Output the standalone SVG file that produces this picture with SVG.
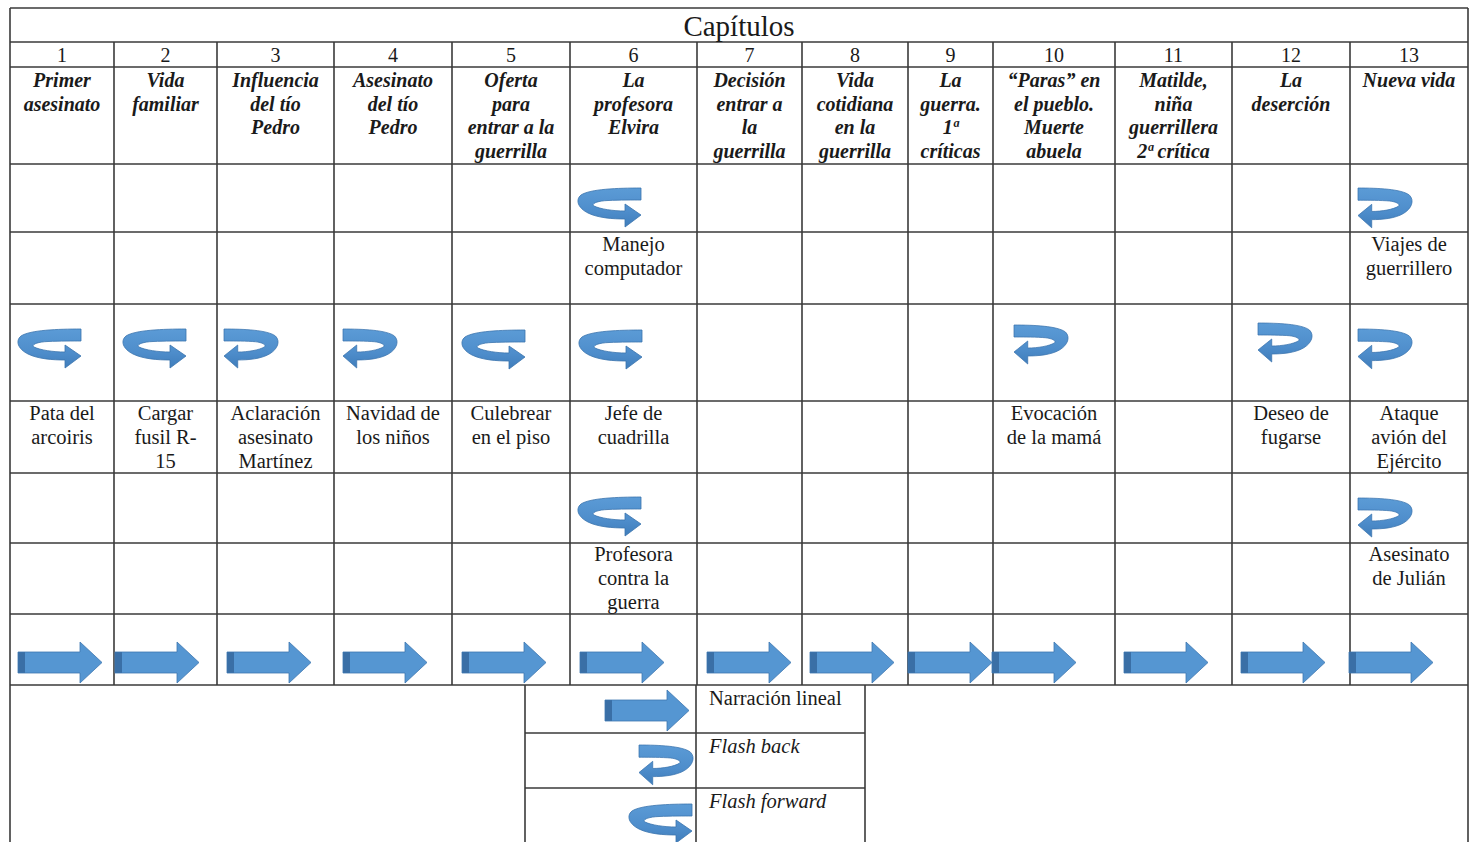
<svg xmlns="http://www.w3.org/2000/svg" xmlns:xlink="http://www.w3.org/1999/xlink" width="1476" height="842" viewBox="0 0 1476 842">
<style>
.ln{stroke:#3a3a3a;stroke-width:1.6;fill:none}
.num{font-family:"Liberation Serif","Times New Roman",serif;font-size:20px;fill:#1a1a1a;text-anchor:middle}
.ttl{font-family:"Liberation Serif","Times New Roman",serif;font-size:20px;font-style:italic;font-weight:bold;fill:#1a1a1a;text-anchor:middle}
.ev{font-family:"Liberation Serif","Times New Roman",serif;font-size:20.5px;fill:#1a1a1a;text-anchor:middle}
.lg{font-family:"Liberation Serif","Times New Roman",serif;font-size:20.5px;fill:#1a1a1a}
.it{font-style:italic}
.cap{font-family:"Liberation Serif","Times New Roman",serif;font-size:29px;fill:#1a1a1a;text-anchor:middle}
</style>
<defs>
<linearGradient id="cg" x1="0" y1="0" x2="0" y2="1">
<stop offset="0" stop-color="#5b9bd6"/>
<stop offset="0.6" stop-color="#4e8dcb"/>
<stop offset="1" stop-color="#3f7dbb"/>
</linearGradient>
<g id="lin">
<rect x="0" y="10" width="64" height="21" fill="#5596d2"/>
<rect x="0" y="10" width="7" height="21" fill="#3a6fa6"/>
<polygon points="62,0 84,20.5 62,41" fill="#5596d2"/>
<path d="M0,10 H62 V0 L84,20.5 L62,41 V31 H0 Z" fill="none" stroke="#3d76b0" stroke-width="0.8"/>
</g>
<path id="fwd" d="M63,0 C40,0 12,1 3,7 C-3,12 0,20 10,25 C20,30 35,31 47,31 L47,39 L63,27 L47,16 L47,23 C35,23 22,21 16,18 C13,16 18,13 30,12.5 C42,12 55,12 63,12 Z" fill="url(#cg)" stroke="#3a73ad" stroke-width="0.8"/>
</defs>

<g id="grid">
<line class="ln" x1="10" y1="8" x2="1468" y2="8"/>
<line class="ln" x1="10" y1="8" x2="10" y2="842"/>
<line class="ln" x1="1468" y1="8" x2="1468" y2="842"/>
<line class="ln" x1="10" y1="42" x2="1468" y2="42"/>
<line class="ln" x1="10" y1="67" x2="1468" y2="67"/>
<line class="ln" x1="10" y1="164" x2="1468" y2="164"/>
<line class="ln" x1="10" y1="232" x2="1468" y2="232"/>
<line class="ln" x1="10" y1="304" x2="1468" y2="304"/>
<line class="ln" x1="10" y1="401" x2="1468" y2="401"/>
<line class="ln" x1="10" y1="473" x2="1468" y2="473"/>
<line class="ln" x1="10" y1="543" x2="1468" y2="543"/>
<line class="ln" x1="10" y1="614" x2="1468" y2="614"/>
<line class="ln" x1="10" y1="685" x2="1468" y2="685"/>
<line class="ln" x1="114" y1="42" x2="114" y2="685"/>
<line class="ln" x1="217" y1="42" x2="217" y2="685"/>
<line class="ln" x1="334" y1="42" x2="334" y2="685"/>
<line class="ln" x1="452" y1="42" x2="452" y2="685"/>
<line class="ln" x1="570" y1="42" x2="570" y2="685"/>
<line class="ln" x1="697" y1="42" x2="697" y2="685"/>
<line class="ln" x1="802" y1="42" x2="802" y2="685"/>
<line class="ln" x1="908" y1="42" x2="908" y2="685"/>
<line class="ln" x1="993" y1="42" x2="993" y2="685"/>
<line class="ln" x1="1115" y1="42" x2="1115" y2="685"/>
<line class="ln" x1="1232" y1="42" x2="1232" y2="685"/>
<line class="ln" x1="1350" y1="42" x2="1350" y2="685"/>
<line class="ln" x1="525" y1="685" x2="525" y2="842"/>
<line class="ln" x1="696" y1="685" x2="696" y2="842"/>
<line class="ln" x1="865" y1="685" x2="865" y2="842"/>
<line class="ln" x1="525" y1="733" x2="865" y2="733"/>
<line class="ln" x1="525" y1="788" x2="865" y2="788"/>
</g>

<g id="title"><text class="cap" x="739" y="36">Capítulos</text></g>

<g id="col1">
<text class="num" x="62" y="62">1</text>
<text class="ttl" x="62" y="87">Primer</text>
<text class="ttl" x="62" y="110.5">asesinato</text>
<text class="ev" x="62" y="420">Pata del</text>
<text class="ev" x="62" y="444">arcoiris</text>
</g>
<g id="col2">
<text class="num" x="165.5" y="62">2</text>
<text class="ttl" x="165.5" y="87">Vida</text>
<text class="ttl" x="165.5" y="110.5">familiar</text>
<text class="ev" x="165.5" y="420">Cargar</text>
<text class="ev" x="165.5" y="444">fusil R-</text>
<text class="ev" x="165.5" y="468">15</text>
</g>
<g id="col3">
<text class="num" x="275.5" y="62">3</text>
<text class="ttl" x="275.5" y="87">Influencia</text>
<text class="ttl" x="275.5" y="110.5">del tío</text>
<text class="ttl" x="275.5" y="134">Pedro</text>
<text class="ev" x="275.5" y="420">Aclaración</text>
<text class="ev" x="275.5" y="444">asesinato</text>
<text class="ev" x="275.5" y="468">Martínez</text>
</g>
<g id="col4">
<text class="num" x="393" y="62">4</text>
<text class="ttl" x="393" y="87">Asesinato</text>
<text class="ttl" x="393" y="110.5">del tío</text>
<text class="ttl" x="393" y="134">Pedro</text>
<text class="ev" x="393" y="420">Navidad de</text>
<text class="ev" x="393" y="444">los niños</text>
</g>
<g id="col5">
<text class="num" x="511" y="62">5</text>
<text class="ttl" x="511" y="87">Oferta</text>
<text class="ttl" x="511" y="110.5">para</text>
<text class="ttl" x="511" y="134">entrar a la</text>
<text class="ttl" x="511" y="158">guerrilla</text>
<text class="ev" x="511" y="420">Culebrear</text>
<text class="ev" x="511" y="444">en el piso</text>
</g>
<g id="col6">
<text class="num" x="633.5" y="62">6</text>
<text class="ttl" x="633.5" y="87">La</text>
<text class="ttl" x="633.5" y="110.5">profesora</text>
<text class="ttl" x="633.5" y="134">Elvira</text>
<text class="ev" x="633.5" y="251">Manejo</text>
<text class="ev" x="633.5" y="275">computador</text>
<text class="ev" x="633.5" y="420">Jefe de</text>
<text class="ev" x="633.5" y="444">cuadrilla</text>
<text class="ev" x="633.5" y="561">Profesora</text>
<text class="ev" x="633.5" y="585">contra la</text>
<text class="ev" x="633.5" y="609">guerra</text>
</g>
<g id="col7">
<text class="num" x="749.5" y="62">7</text>
<text class="ttl" x="749.5" y="87">Decisión</text>
<text class="ttl" x="749.5" y="110.5">entrar a</text>
<text class="ttl" x="749.5" y="134">la</text>
<text class="ttl" x="749.5" y="158">guerrilla</text>
</g>
<g id="col8">
<text class="num" x="855" y="62">8</text>
<text class="ttl" x="855" y="87">Vida</text>
<text class="ttl" x="855" y="110.5">cotidiana</text>
<text class="ttl" x="855" y="134">en la</text>
<text class="ttl" x="855" y="158">guerrilla</text>
</g>
<g id="col9">
<text class="num" x="950.5" y="62">9</text>
<text class="ttl" x="950.5" y="87">La</text>
<text class="ttl" x="950.5" y="110.5">guerra.</text>
<text class="ttl" x="950.5" y="134">1ª</text>
<text class="ttl" x="950.5" y="158">críticas</text>
</g>
<g id="col10">
<text class="num" x="1054" y="62">10</text>
<text class="ttl" x="1054" y="87">“Paras” en</text>
<text class="ttl" x="1054" y="110.5">el pueblo.</text>
<text class="ttl" x="1054" y="134">Muerte</text>
<text class="ttl" x="1054" y="158">abuela</text>
<text class="ev" x="1054" y="420">Evocación</text>
<text class="ev" x="1054" y="444">de la mamá</text>
</g>
<g id="col11">
<text class="num" x="1173.5" y="62">11</text>
<text class="ttl" x="1173.5" y="87">Matilde,</text>
<text class="ttl" x="1173.5" y="110.5">niña</text>
<text class="ttl" x="1173.5" y="134">guerrillera</text>
<text class="ttl" x="1173.5" y="158">2ª crítica</text>
</g>
<g id="col12">
<text class="num" x="1291" y="62">12</text>
<text class="ttl" x="1291" y="87">La</text>
<text class="ttl" x="1291" y="110.5">deserción</text>
<text class="ev" x="1291" y="420">Deseo de</text>
<text class="ev" x="1291" y="444">fugarse</text>
</g>
<g id="col13">
<text class="num" x="1409" y="62">13</text>
<text class="ttl" x="1409" y="87">Nueva vida</text>
<text class="ev" x="1409" y="251">Viajes de</text>
<text class="ev" x="1409" y="275">guerrillero</text>
<text class="ev" x="1409" y="420">Ataque</text>
<text class="ev" x="1409" y="444">avión del</text>
<text class="ev" x="1409" y="468">Ejército</text>
<text class="ev" x="1409" y="561">Asesinato</text>
<text class="ev" x="1409" y="585">de Julián</text>
</g>

<g id="connectors">
<!-- flash forward -->
<use xlink:href="#fwd" href="#fwd" transform="translate(578,188)"/>
<use xlink:href="#fwd" href="#fwd" transform="translate(18,329)"/>
<use xlink:href="#fwd" href="#fwd" transform="translate(123,329)"/>
<use xlink:href="#fwd" href="#fwd" transform="translate(462,330)"/>
<use xlink:href="#fwd" href="#fwd" transform="translate(579,330)"/>
<use xlink:href="#fwd" href="#fwd" transform="translate(578,497)"/>
<!-- flash back -->
<use xlink:href="#fwd" href="#fwd" transform="translate(1412,188) scale(-0.857,1.02)"/>
<use xlink:href="#fwd" href="#fwd" transform="translate(278,329) scale(-0.857,1.0)"/>
<use xlink:href="#fwd" href="#fwd" transform="translate(397,329) scale(-0.857,1.0)"/>
<use xlink:href="#fwd" href="#fwd" transform="translate(1068,325) scale(-0.857,1.0)"/>
<use xlink:href="#fwd" href="#fwd" transform="translate(1312,323) scale(-0.857,1.0)"/>
<use xlink:href="#fwd" href="#fwd" transform="translate(1412,329) scale(-0.857,1.02)"/>
<use xlink:href="#fwd" href="#fwd" transform="translate(1412,498) scale(-0.857,1.0)"/>
<!-- linear -->
<use xlink:href="#lin" href="#lin" x="18" y="642"/>
<use xlink:href="#lin" href="#lin" x="115" y="642"/>
<use xlink:href="#lin" href="#lin" x="227" y="642"/>
<use xlink:href="#lin" href="#lin" x="343" y="642"/>
<use xlink:href="#lin" href="#lin" x="462" y="642"/>
<use xlink:href="#lin" href="#lin" x="580" y="642"/>
<use xlink:href="#lin" href="#lin" x="707" y="642"/>
<use xlink:href="#lin" href="#lin" x="810" y="642"/>
<use xlink:href="#lin" href="#lin" x="908" y="642"/>
<use xlink:href="#lin" href="#lin" x="992" y="642"/>
<use xlink:href="#lin" href="#lin" x="1124" y="642"/>
<use xlink:href="#lin" href="#lin" x="1241" y="642"/>
<use xlink:href="#lin" href="#lin" x="1349" y="642"/>
</g>

<g id="legend">
<use xlink:href="#lin" href="#lin" x="605" y="690"/>
<use xlink:href="#fwd" href="#fwd" transform="translate(693,745) scale(-0.857,1.02)"/>
<use xlink:href="#fwd" href="#fwd" transform="translate(629,804)"/>
<text class="lg" x="709" y="705">Narración lineal</text>
<text class="lg it" x="709" y="753">Flash back</text>
<text class="lg it" x="709" y="808">Flash forward</text>
</g>
</svg>
